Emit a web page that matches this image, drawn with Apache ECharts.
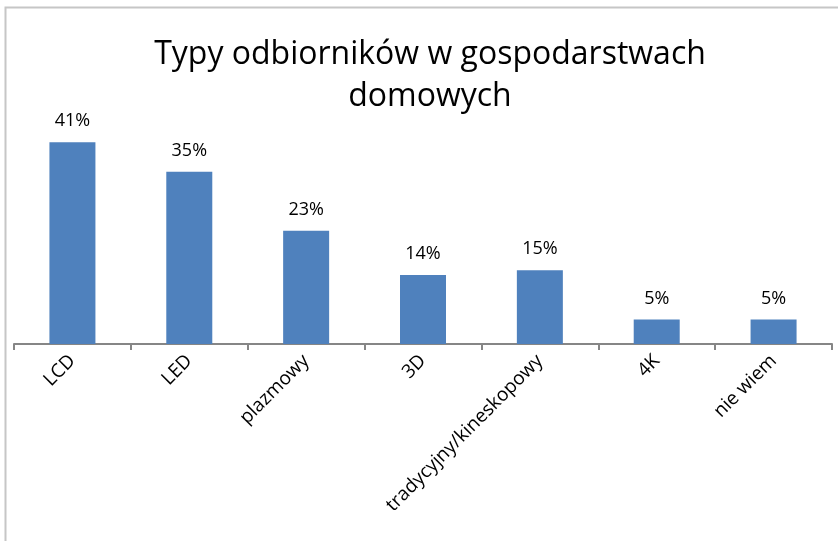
<!DOCTYPE html>
<html>
<head>
<meta charset="utf-8">
<script src="https://cdn.jsdelivr.net/npm/echarts@6/dist/echarts.min.js"></script>
<style>
  html, body { margin: 0; padding: 0; background: #fff; }
  #chart { width: 838px; height: 541px; }
</style>
</head>
<body>
<div id="chart"></div>
<script>
// kategorie i wartości (%)
var categories = ['LCD', 'LED', 'plazmowy', '3D', 'tradycyjny/kineskopowy', '4K', 'nie wiem'];
var values = [41, 35, 23, 14, 15, 5, 5];

var myChart = echarts.init(document.getElementById('chart'));

var option = {
    animation: false,
    backgroundColor: '#fff',
    title: {
        text: 'Typy odbiorników w gospodarstwach\ndomowych',
        left: 425,
        textAlign: 'center',
        top: 29,
        textStyle: {
            fontFamily: 'Open Sans',
            fontWeight: 'normal',
            fontSize: 32,
            lineHeight: 42,
            color: '#000'
        }
    },
    // ramka wykresu
    graphic: [{
        type: 'rect',
        shape: { x: 5.5, y: 7.5, width: 900, height: 600 },
        style: { fill: null, stroke: '#c6c6c6', lineWidth: 2 },
        silent: true
    }],
    grid: {
        left: 14,
        right: 6,
        top: 98,
        bottom: 197,
        containLabel: false
    },
    xAxis: {
        type: 'category',
        data: categories,
        axisLine: { lineStyle: { color: '#868686', width: 2 } },
        axisTick: { show: true, alignWithLabel: false, length: 6, lineStyle: { color: '#868686', width: 2 } },
        axisLabel: {
            rotate: 45,
            interval: 0,
            margin: 14,
            color: '#000',
            fontFamily: 'Open Sans',
            fontSize: 19
        }
    },
    yAxis: {
        type: 'value',
        min: 0,
        max: 50,
        show: false,
        splitLine: { show: false }
    },
    series: [{
        type: 'bar',
        data: values,
        barWidth: 46,
        itemStyle: { color: '#4f81bd' },
        label: {
            show: true,
            position: 'top',
            distance: 12,
            formatter: '{c}%',
            color: '#000',
            fontFamily: 'Open Sans',
            fontSize: 18
        }
    }]
};

myChart.setOption(option);
</script>
</body>
</html>
